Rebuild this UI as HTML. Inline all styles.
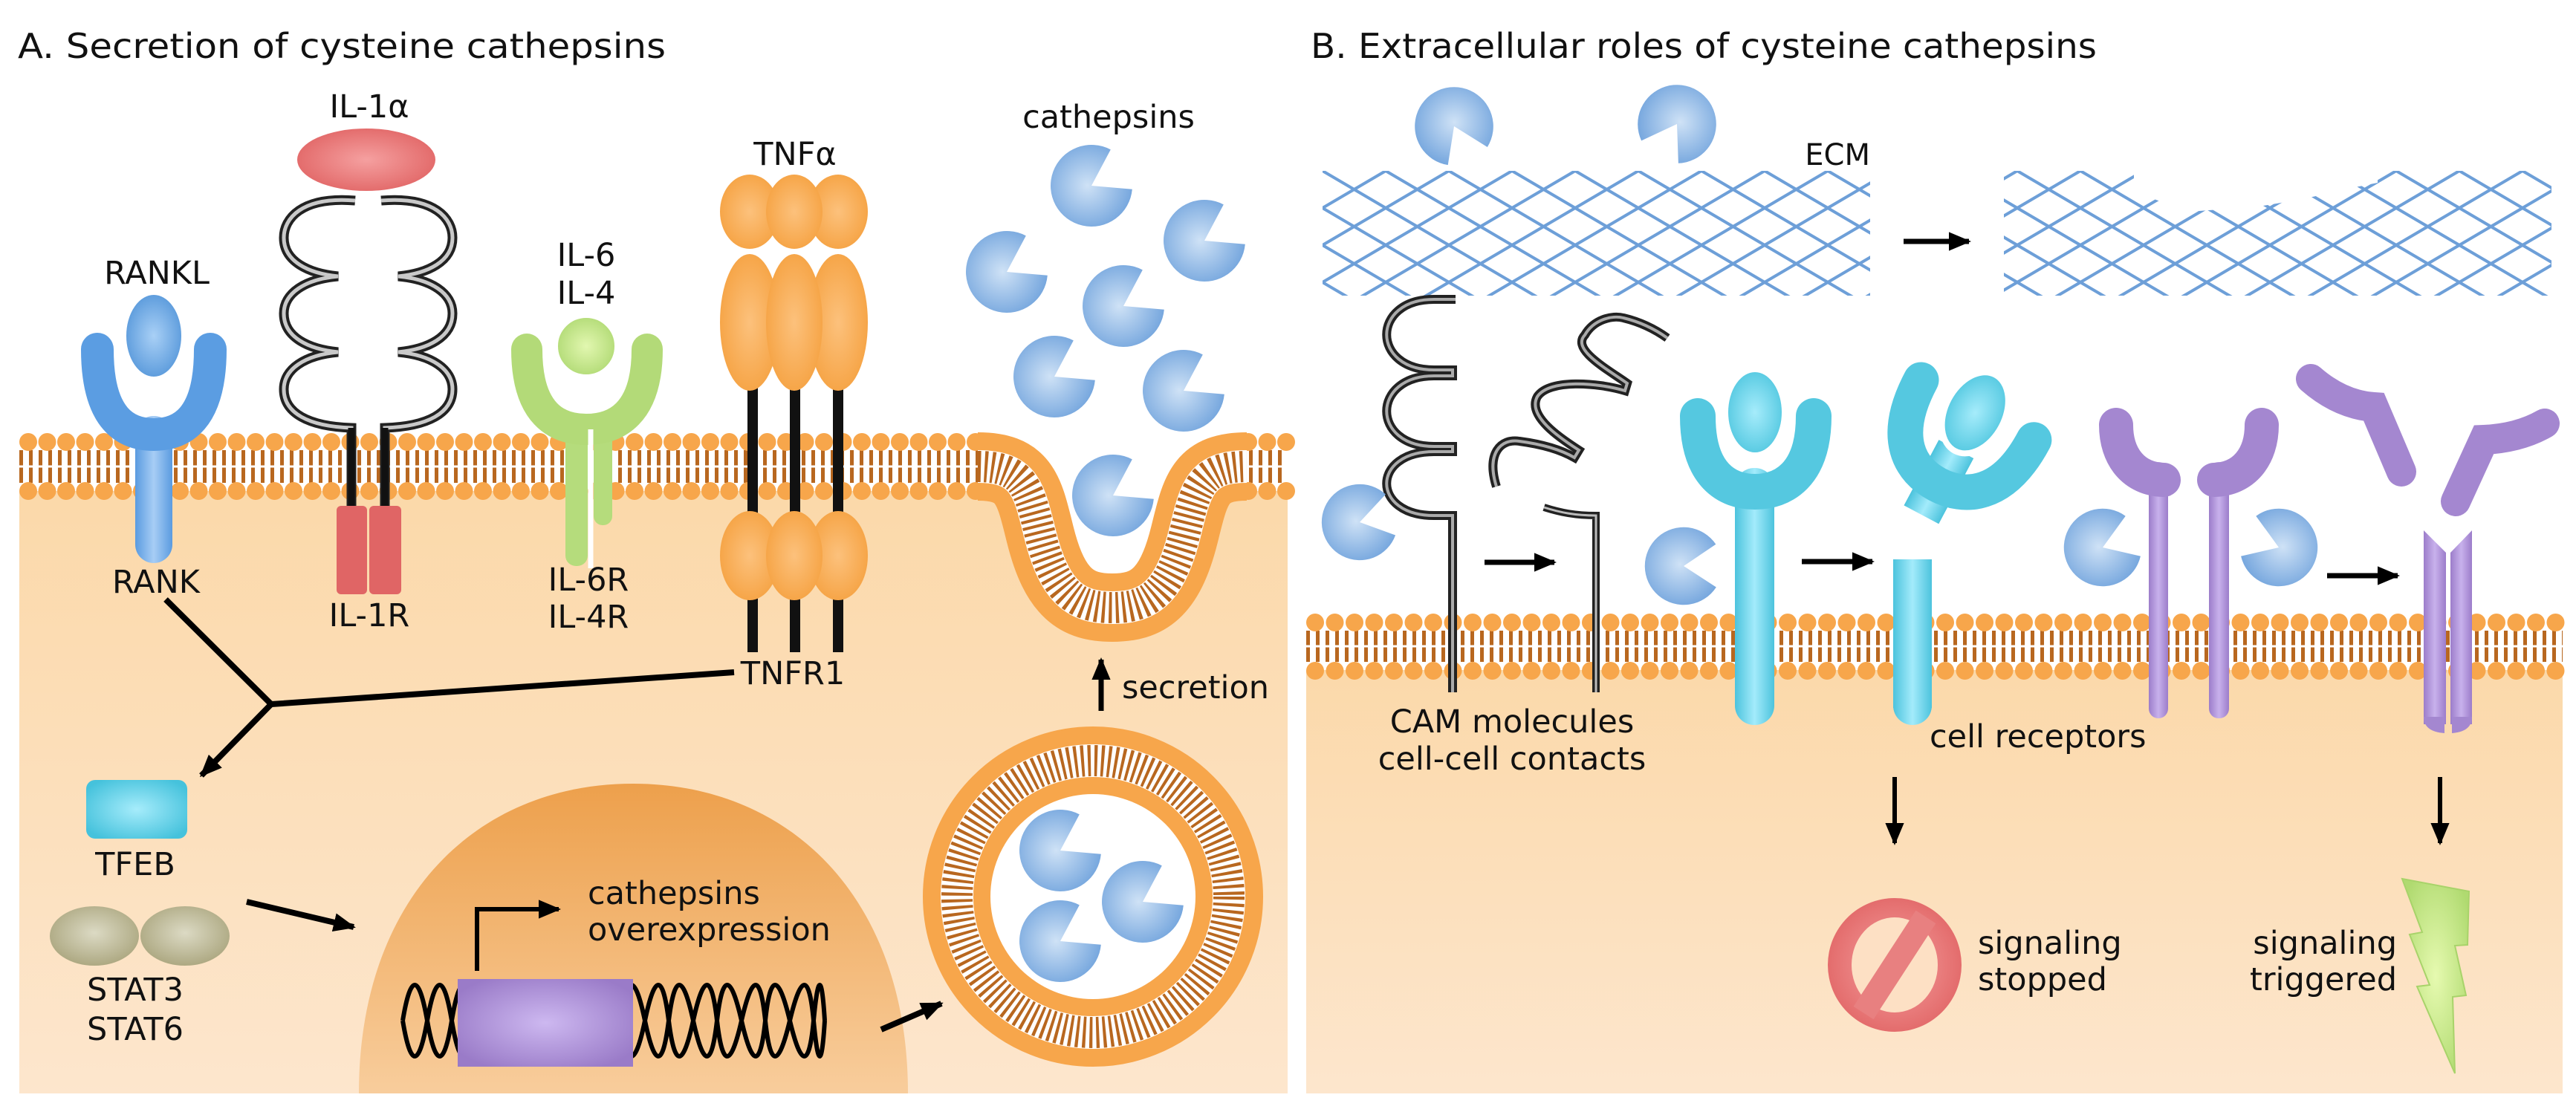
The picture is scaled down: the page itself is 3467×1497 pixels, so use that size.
<!DOCTYPE html>
<html><head><meta charset="utf-8"><style>
html,body{margin:0;padding:0;background:#fff}
svg{display:block}
text{font-family:"DejaVu Sans","Liberation Sans",sans-serif;fill:#111}
</style></head><body>
<svg width="3467" height="1497" viewBox="0 0 3467 1497" xmlns="http://www.w3.org/2000/svg">
<defs>
<linearGradient id="tan" x1="0" y1="0" x2="0" y2="1"><stop offset="0" stop-color="#fbd8a8"/><stop offset="1" stop-color="#fde6cd"/></linearGradient>
<linearGradient id="nuc" x1="0" y1="0" x2="0" y2="1"><stop offset="0" stop-color="#eda04c"/><stop offset="1" stop-color="#f8cd9c"/></linearGradient>
<radialGradient id="cat" cx="0.45" cy="0.5" r="0.6"><stop offset="0" stop-color="#cfe2f6"/><stop offset="1" stop-color="#6fa2dc"/></radialGradient>
<radialGradient id="blue" cx="0.5" cy="0.5" r="0.6"><stop offset="0" stop-color="#a9d0f6"/><stop offset="1" stop-color="#4a8fd6"/></radialGradient>
<linearGradient id="blueS" x1="0" y1="0" x2="1" y2="0"><stop offset="0" stop-color="#5a9be0"/><stop offset="0.5" stop-color="#a7cdf5"/><stop offset="1" stop-color="#5a9be0"/></linearGradient>
<radialGradient id="green" cx="0.5" cy="0.5" r="0.6"><stop offset="0" stop-color="#e2f7b0"/><stop offset="1" stop-color="#a8d56a"/></radialGradient>
<radialGradient id="orng" cx="0.5" cy="0.5" r="0.6"><stop offset="0" stop-color="#fcc17c"/><stop offset="1" stop-color="#f5a03e"/></radialGradient>
<radialGradient id="red" cx="0.5" cy="0.5" r="0.6"><stop offset="0" stop-color="#f5a0a0"/><stop offset="1" stop-color="#e06262"/></radialGradient>
<radialGradient id="cyan" cx="0.5" cy="0.5" r="0.6"><stop offset="0" stop-color="#a6ecfb"/><stop offset="1" stop-color="#45c2dc"/></radialGradient>
<linearGradient id="cyanS" x1="0" y1="0" x2="1" y2="0"><stop offset="0" stop-color="#4cc3dd"/><stop offset="0.5" stop-color="#a3ebfb"/><stop offset="1" stop-color="#4cc3dd"/></linearGradient>
<linearGradient id="purpS" x1="0" y1="0" x2="1" y2="0"><stop offset="0" stop-color="#9c7dca"/><stop offset="0.5" stop-color="#c8b1ec"/><stop offset="1" stop-color="#9c7dca"/></linearGradient>
<radialGradient id="olive" cx="0.5" cy="0.45" r="0.6"><stop offset="0" stop-color="#dcdac4"/><stop offset="1" stop-color="#a9a47c"/></radialGradient>
<radialGradient id="gene" cx="0.5" cy="0.5" r="0.6"><stop offset="0" stop-color="#cdb8f0"/><stop offset="1" stop-color="#9a7bc8"/></radialGradient>
<radialGradient id="bolt" cx="0.5" cy="0.5" r="0.6"><stop offset="0" stop-color="#e6fab0"/><stop offset="1" stop-color="#b0da70"/></radialGradient>
<pattern id="mesh" width="85" height="50" patternUnits="userSpaceOnUse" x="1780" y="230">
<path d="M-8.5,-5 L93.5,55 M-8.5,55 L93.5,-5" stroke="#6d9fd8" stroke-width="4" fill="none"/>
</pattern>
<marker id="ah" markerUnits="userSpaceOnUse" markerWidth="30" markerHeight="30" viewBox="0 0 10 10" refX="9" refY="5" orient="auto"><path d="M0,0.8 L10,5 L0,9.2 z" fill="#000"/></marker>
<g id="cath"><path d="M0,0 L25.8,-48.6 A55,55 0 1,0 54.8,4.8 Z" fill="url(#cat)"/></g>
<path id="upath" d="M1316,628 C1380,628 1385,660 1400,720 C1420,800 1450,818 1497,818 C1544,818 1574,800 1594,720 C1609,660 1614,628 1678,628"/>
</defs>

<text x="24" y="78" font-size="46" textLength="872" lengthAdjust="spacingAndGlyphs">A. Secretion of cysteine cathepsins</text>
<text x="1764" y="78" font-size="46" textLength="1058" lengthAdjust="spacingAndGlyphs">B. Extracellular roles of cysteine cathepsins</text>

<rect x="26" y="628" width="1707" height="844" fill="url(#tan)"/>
<clipPath id="clipA"><rect x="26" y="628" width="1707" height="844"/></clipPath>
<path d="M483,1472 C483,1210 640,1055 852,1055 C1064,1055 1222,1210 1222,1472 Z" fill="url(#nuc)" clip-path="url(#clipA)"/>
<path d="M1320,628 C1380,628 1385,660 1400,720 C1420,800 1450,818 1497,818 C1544,818 1574,800 1594,720 C1609,660 1614,628 1674,628 Z" fill="#fff"/>
<rect x="26" y="595" width="1300" height="66" fill="#fff"/>
<rect x="1668" y="595" width="65" height="66" fill="#fff"/>
<line x1="26" y1="628" x2="1326" y2="628" stroke="#b8671f" stroke-width="44" stroke-dasharray="5 8"/>
<line x1="1668" y1="628" x2="1733" y2="628" stroke="#b8671f" stroke-width="44" stroke-dasharray="5 8"/>
<line x1="26" y1="628" x2="1326" y2="628" stroke="#fff" stroke-width="3"/>
<line x1="1668" y1="628" x2="1733" y2="628" stroke="#fff" stroke-width="3"/>
<g stroke="#f7a64b" stroke-width="24" stroke-linecap="round" stroke-dasharray="0 25.5">
<line x1="38" y1="595" x2="1326" y2="595"/><line x1="38" y1="661" x2="1326" y2="661"/>
<line x1="1680" y1="595" x2="1733" y2="595"/><line x1="1680" y1="661" x2="1733" y2="661"/>
</g>
<g fill="none">
<use href="#upath" stroke="#f7a64b" stroke-width="92"/>
<use href="#upath" stroke="#fff" stroke-width="44"/>
<use href="#upath" stroke="#b8671f" stroke-width="42" stroke-dasharray="4 5"/>
</g>
<circle cx="1471" cy="1207" r="183" fill="none" stroke="#f7a64b" stroke-width="92"/>
<circle cx="1471" cy="1207" r="183" fill="none" stroke="#fff" stroke-width="44"/>
<circle cx="1471" cy="1207" r="183" fill="none" stroke="#b8671f" stroke-width="42" stroke-dasharray="4 5"/>
<circle cx="1471" cy="1207" r="138" fill="#fff"/>

<use href="#cath" transform="translate(1469,250)"/>
<use href="#cath" transform="translate(1621,324)"/>
<use href="#cath" transform="translate(1355,366)"/>
<use href="#cath" transform="translate(1512,412)"/>
<use href="#cath" transform="translate(1419,507)"/>
<use href="#cath" transform="translate(1593,526)"/>
<use href="#cath" transform="translate(1498,667)"/>
<use href="#cath" transform="translate(1427,1145)"/>
<use href="#cath" transform="translate(1538,1214)"/>
<use href="#cath" transform="translate(1427,1267)"/>
<text x="1492" y="172" font-size="43" text-anchor="middle">cathepsins</text>

<rect x="182" y="560" width="50" height="198" rx="25" fill="url(#blueS)"/>
<path d="M131,470 C131,565 170,585 207,585 C244,585 283,565 283,470" fill="none" stroke="#5b9de2" stroke-width="44" stroke-linecap="round"/>
<ellipse cx="207" cy="452" rx="41" ry="59" fill="url(#blue)" stroke="#fff" stroke-width="8"/>
<text x="211" y="382" font-size="43" text-anchor="middle">RANKL</text>
<text x="210" y="798" font-size="43" text-anchor="middle">RANK</text>

<ellipse cx="493" cy="215" rx="93" ry="42" fill="url(#red)"/>
<text x="497" y="158" font-size="43" text-anchor="middle">IL-1α</text>
<g fill="none">
<path id="il1l" d="M478,270 C405,264 382,295 382,320 C382,352 415,368 455,372 C410,376 382,395 382,422 C382,454 415,470 455,474 C410,478 382,497 382,524 C382,556 415,574 473,576 V690"/>
<use href="#il1l" stroke="#222" stroke-width="13"/>
<use href="#il1l" stroke="#c9c9c9" stroke-width="5"/>
<use href="#il1l" transform="translate(991,0) scale(-1,1)" stroke="#222" stroke-width="13"/>
<use href="#il1l" transform="translate(991,0) scale(-1,1)" stroke="#c9c9c9" stroke-width="5"/>
</g>
<line x1="473" y1="576" x2="473" y2="690" stroke="#111" stroke-width="9"/>
<line x1="518" y1="576" x2="518" y2="690" stroke="#111" stroke-width="9"/>
<rect x="453" y="681" width="41" height="119" rx="6" fill="#e06565"/>
<rect x="497" y="681" width="43" height="119" rx="6" fill="#e06565"/>
<text x="497" y="843" font-size="43" text-anchor="middle">IL-1R</text>

<rect x="761" y="560" width="30" height="202" rx="14" fill="#b5dc7c"/>
<rect x="799" y="560" width="25" height="147" rx="12" fill="#b5dc7c"/>
<path d="M709,470 C709,558 750,578 789,578 C828,578 871,558 871,470" fill="none" stroke="#b3da78" stroke-width="42" stroke-linecap="round"/>
<line x1="795" y1="578" x2="795" y2="765" stroke="#fff" stroke-width="7"/>
<circle cx="789" cy="466" r="42" fill="url(#green)" stroke="#fff" stroke-width="8"/>
<text x="789" y="358" font-size="43" text-anchor="middle">IL-6</text>
<text x="789" y="409" font-size="43" text-anchor="middle">IL-4</text>
<text x="792" y="795" font-size="43" text-anchor="middle">IL-6R</text>
<text x="792" y="845" font-size="43" text-anchor="middle">IL-4R</text>

<g stroke="#111" stroke-width="14">
<line x1="1013" y1="520" x2="1013" y2="878"/><line x1="1070" y1="520" x2="1070" y2="878"/><line x1="1128" y1="520" x2="1128" y2="878"/>
</g>
<g fill="url(#orng)">
<ellipse cx="1009" cy="285" rx="40" ry="50"/><ellipse cx="1128" cy="285" rx="40" ry="50"/><ellipse cx="1069" cy="285" rx="38" ry="50"/>
<ellipse cx="1009" cy="434" rx="40" ry="92"/><ellipse cx="1128" cy="434" rx="40" ry="92"/><ellipse cx="1069" cy="434" rx="38" ry="92"/>
<ellipse cx="1009" cy="748" rx="40" ry="60"/><ellipse cx="1128" cy="748" rx="40" ry="60"/><ellipse cx="1069" cy="748" rx="38" ry="60"/>
</g>
<text x="1070" y="222" font-size="43" text-anchor="middle">TNFα</text>
<text x="1067" y="921" font-size="43" text-anchor="middle">TNFR1</text>

<polyline points="223,807 365,948 988,905" fill="none" stroke="#000" stroke-width="8"/>
<line x1="365" y1="948" x2="271" y2="1044" stroke="#000" stroke-width="8" marker-end="url(#ah)"/>
<rect x="116" y="1050" width="136" height="79" rx="12" fill="url(#cyan)"/>
<text x="182" y="1178" font-size="43" text-anchor="middle">TFEB</text>
<ellipse cx="127" cy="1260" rx="60" ry="40" fill="url(#olive)"/>
<ellipse cx="249" cy="1260" rx="60" ry="40" fill="url(#olive)"/>
<text x="182" y="1347" font-size="43" text-anchor="middle">STAT3</text>
<text x="182" y="1400" font-size="43" text-anchor="middle">STAT6</text>
<line x1="332" y1="1214" x2="476" y2="1248" stroke="#000" stroke-width="8" marker-end="url(#ah)"/>

<g fill="none" stroke="#000" stroke-width="6">
<path d="M542,1374 Q558,1278 575,1374 T608,1374 T640,1374 T673,1374 T705,1374 T738,1374 T770,1374 T803,1374 T835,1374 T868,1374 T900,1374 T933,1374 T965,1374 T998,1374 T1030,1374 T1063,1374 T1095,1374 T1110,1374"/>
<path d="M542,1374 Q558,1470 575,1374 T608,1374 T640,1374 T673,1374 T705,1374 T738,1374 T770,1374 T803,1374 T835,1374 T868,1374 T900,1374 T933,1374 T965,1374 T998,1374 T1030,1374 T1063,1374 T1095,1374 T1110,1374"/>
</g>
<rect x="616" y="1318" width="236" height="118" fill="url(#gene)"/>
<polyline points="642,1307 642,1224 752,1224" fill="none" stroke="#000" stroke-width="6" marker-end="url(#ah)"/>
<text x="791" y="1217" font-size="43">cathepsins</text>
<text x="791" y="1266" font-size="43">overexpression</text>
<line x1="1186" y1="1386" x2="1267" y2="1351" stroke="#000" stroke-width="8" marker-end="url(#ah)"/>
<line x1="1482" y1="957" x2="1482" y2="888" stroke="#000" stroke-width="7" marker-end="url(#ah)"/>
<text x="1510" y="940" font-size="43">secretion</text>

<rect x="1758" y="870" width="1691" height="602" fill="url(#tan)"/>
<rect x="1758" y="838" width="1691" height="64" fill="#fff"/>
<line x1="1758" y1="870" x2="3449" y2="870" stroke="#b8671f" stroke-width="42" stroke-dasharray="5 8"/>
<line x1="1758" y1="870" x2="3449" y2="870" stroke="#fff" stroke-width="3"/>
<g stroke="#f7a64b" stroke-width="24" stroke-linecap="round" stroke-dasharray="0 26.5">
<line x1="1770" y1="838" x2="3449" y2="838"/><line x1="1770" y1="903" x2="3449" y2="903"/>
</g>

<rect x="1780" y="230" width="737" height="168" fill="url(#mesh)"/>
<rect x="2697" y="230" width="737" height="168" fill="url(#mesh)"/>
<polygon points="2872,226 3200,226 3200,246 3150,256 3100,268 3040,278 2960,284 2910,272 2872,258" fill="#fff"/>
<text x="2517" y="222" font-size="40" text-anchor="end">ECM</text>
<use href="#cath" transform="translate(1957,170) rotate(94) scale(0.96)"/>
<use href="#cath" transform="translate(2257,167) rotate(150) scale(0.96)"/>
<line x1="2562" y1="325" x2="2650" y2="325" stroke="#000" stroke-width="7" marker-end="url(#ah)"/>

<g fill="none">
<path id="cam1" d="M1959,403 H1930 C1845,403 1845,498 1930,498 H1955 V506 H1930 C1845,506 1845,601 1930,601 H1955 V608 H1930 C1845,608 1845,694 1930,694 H1955 V932"/>
<use href="#cam1" stroke="#222" stroke-width="12"/>
<use href="#cam1" stroke="#aaa" stroke-width="4"/>
<path id="cam2" d="M2014,655 C2000,610 2020,590 2045,594 C2075,598 2100,605 2119,616 L2125,606 C2100,590 2055,560 2069,534 C2085,510 2150,515 2187,526 L2190,516 C2160,495 2115,470 2133,451 C2145,430 2170,424 2185,428 C2210,434 2230,445 2244,455"/>
<use href="#cam2" stroke="#222" stroke-width="12"/>
<use href="#cam2" stroke="#aaa" stroke-width="4"/>
<path id="cam3" d="M2078,683 C2100,690 2120,694 2148,694 V932"/>
<use href="#cam3" stroke="#222" stroke-width="10"/>
<use href="#cam3" stroke="#bbb" stroke-width="3"/>
</g>
<use href="#cath" transform="translate(1830,703) rotate(15) scale(0.93)"/>
<line x1="1998" y1="757" x2="2092" y2="757" stroke="#000" stroke-width="7" marker-end="url(#ah)"/>
<text x="2035" y="986" font-size="43" text-anchor="middle">CAM molecules</text>
<text x="2035" y="1036" font-size="43" text-anchor="middle">cell-cell contacts</text>

<rect x="2335" y="630" width="53" height="346" rx="26" fill="url(#cyanS)"/>
<path d="M2285,560 C2285,640 2325,662 2362,662 C2399,662 2441,640 2441,560" fill="none" stroke="#55c8e0" stroke-width="48" stroke-linecap="round"/>
<ellipse cx="2362" cy="555" rx="40" ry="58" fill="url(#cyan)" stroke="#fff" stroke-width="8"/>
<use href="#cath" transform="translate(2266,762) rotate(28) scale(0.95)"/>
<line x1="2425" y1="756" x2="2520" y2="756" stroke="#000" stroke-width="7" marker-end="url(#ah)"/>
<g transform="translate(2623,622) rotate(28)">
<rect x="-26" y="-20" width="53" height="100" fill="url(#cyanS)"/>
<path d="M-85,-80 C-85,10 -40,34 0,34 C40,34 87,10 87,-80" fill="none" stroke="#55c8e0" stroke-width="48" stroke-linecap="round"/>
<ellipse cx="0" cy="-75" rx="40" ry="58" fill="url(#cyan)" stroke="#fff" stroke-width="8"/>
</g>
<rect x="2548" y="753" width="52" height="200" fill="url(#cyanS)"/>
<rect x="2548" y="920" width="52" height="56" rx="26" fill="url(#cyanS)"/>
<text x="2597" y="1006" font-size="43">cell receptors</text>
<line x1="2550" y1="1046" x2="2550" y2="1135" stroke="#000" stroke-width="6" marker-end="url(#ah)"/>

<circle cx="2550" cy="1299" r="90" fill="url(#red)"/>
<ellipse cx="2550" cy="1299" rx="58" ry="64" fill="#fde0c4"/>
<rect x="2534" y="1222" width="32" height="154" fill="#e88080" transform="rotate(33 2550 1299)"/>
<text x="2662" y="1284" font-size="43">signaling</text>
<text x="2662" y="1333" font-size="43">stopped</text>

<rect x="2892" y="622" width="26" height="345" rx="13" fill="url(#purpS)"/>
<rect x="2973" y="622" width="27" height="345" rx="13" fill="url(#purpS)"/>
<path d="M2848,572 C2848,615 2872,645 2912,646" fill="none" stroke="#a487d0" stroke-width="46" stroke-linecap="round"/>
<path d="M3044,572 C3044,615 3020,645 2980,646" fill="none" stroke="#a487d0" stroke-width="46" stroke-linecap="round"/>
<use href="#cath" transform="translate(2830,737) rotate(8) scale(0.95)"/>
<use href="#cath" transform="translate(3067,737) scale(-0.95,0.95) rotate(8)"/>
<line x1="3132" y1="775" x2="3227" y2="775" stroke="#000" stroke-width="7" marker-end="url(#ah)"/>
<path d="M3110,510 Q3150,545 3195,548 L3232,635" fill="none" stroke="#a487d0" stroke-width="40" stroke-linecap="round"/>
<path d="M3305,675 L3343,592 Q3390,590 3425,570" fill="none" stroke="#a487d0" stroke-width="40" stroke-linecap="round"/>
<polygon points="3262,714 3292,744 3292,975 3262,975" fill="url(#purpS)"/>
<polygon points="3327,714 3298,744 3298,975 3327,975" fill="url(#purpS)"/>
<path d="M3262,965 Q3262,985 3290,987 L3290,965 Z M3327,965 Q3327,985 3300,987 L3300,965 Z" fill="#a487d0"/>
<line x1="3284" y1="1046" x2="3284" y2="1135" stroke="#000" stroke-width="6" marker-end="url(#ah)"/>
<polygon points="3233,1183 3323,1200 3321,1272 3304,1273 3319,1340 3301,1342 3304,1445 3253,1328 3270,1326 3243,1258 3260,1255" fill="url(#bolt)" stroke="#a8d36a" stroke-width="2"/>
<text x="3226" y="1284" font-size="43" text-anchor="end">signaling</text>
<text x="3226" y="1333" font-size="43" text-anchor="end">triggered</text>
</svg>
</body></html>
